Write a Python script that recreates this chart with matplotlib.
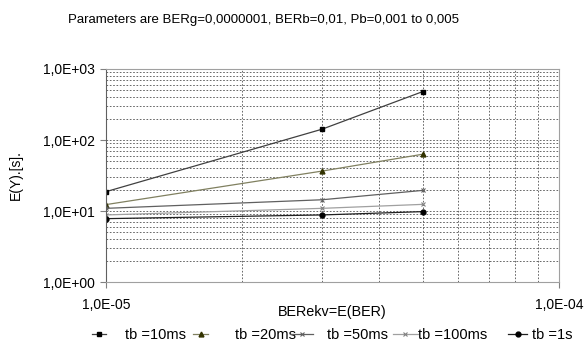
import matplotlib.pyplot as plt
from matplotlib.ticker import NullFormatter, LogLocator

plt.rcParams['font.family'] = ['Liberation Sans', 'DejaVu Sans']

ber = [1e-5, 3e-5, 5e-5]
tb_10ms = [18.7, 142, 480]
tb_20ms = [12.3, 36.5, 63]
tb_50ms = [10.9, 14.4, 19.5]
tb_100ms = [8.8, 10.9, 12.4]
tb_1s = [7.8, 8.8, 9.8]

labels = ['tb =10ms', 'tb =20ms', 'tb =50ms', 'tb =100ms', 'tb =1s']
xticks = [1e-5, 1e-4]
xtick_labels = ['1,0E-05', '1,0E-04']
ytick_labels = ['1,0E+00', '1,0E+01', '1,0E+02', '1,0E+03']

W, H = 585, 345
fig = plt.figure(figsize=(W / 100, H / 100), dpi=100)
ax = fig.add_axes([0.181, 0.1826, 0.7746, 0.6174])

series = [tb_10ms, tb_20ms, tb_50ms, tb_100ms, tb_1s]
styles = [
    dict(color='#404040', marker='s', mfc='black', mec='black', ms=3.5),
    dict(color='#808060', marker='^', mfc='#333300', mec='#333300', ms=3.5),
    dict(color='#606060', marker='x', mec='#606060', ms=3.5, mew=0.8),
    dict(color='#a0a0a0', marker='x', mec='#808080', ms=3.5, mew=0.8),
    dict(color='#202020', marker='o', mfc='black', mec='black', ms=3.5),
]
lines = []
for vals, lab, st in zip(series, labels, styles):
    ln, = ax.plot(ber, vals, lw=0.9, label=lab, **st)
    lines.append(ln)

ax.set_xscale('log')
ax.set_yscale('log')
ax.set_xlim(1e-5, 1e-4)
ax.set_ylim(1, 1000)

ax.set_xticks(xticks)
ax.set_xticklabels(['', ''])
ax.set_yticks([1, 10, 100, 1000])
ax.set_yticklabels(ytick_labels)
ax.xaxis.set_minor_locator(LogLocator(base=10, subs=range(2, 10)))
ax.yaxis.set_minor_locator(LogLocator(base=10, subs=range(2, 10)))
ax.xaxis.set_minor_formatter(NullFormatter())
ax.yaxis.set_minor_formatter(NullFormatter())
ax.tick_params(which='minor', length=0)
ax.tick_params(which='major', length=4, color='#808080', labelsize=10, pad=4)

# x tick labels placed by hand (they sit well below the axis in the original)
xt = ax.get_xaxis_transform()
for xv, txt in zip(xticks, xtick_labels):
    ax.text(xv, -0.108, txt, transform=xt, ha='center', va='center', fontsize=10)

ax.grid(True, which='both', color='#505050', lw=0.6, ls=(0, (2, 2)))
ax.set_axisbelow(True)
for sp in ax.spines.values():
    sp.set_color('#a0a0a0')
ax.spines['left'].set_color('#606060')

ax.set_xlabel('BERekv=E(BER)', fontsize=10.4)
ax.xaxis.set_label_coords(0.5, -0.141)
ax.xaxis.label.set_va('center')
ax.set_ylabel('E(Y).[s].', fontsize=10, labelpad=14)

fig.suptitle('Parameters are BERg=0,0000001, BERb=0,01, Pb=0,001 to 0,005',
             fontsize=9.5, x=0.45, y=0.96)

# Excel-style legend with uneven spacing: one small legend per entry
fs = 10.5
em = fs * 100 / 72
handle_x0 = [92, 193, 290, 393, 508]
handle_w = [14, 15, 23, 25, 19]
text_x0 = [125, 235, 327, 418, 532]
for ln, x0, hw, tx in zip(lines, handle_x0, handle_w, text_x0):
    fig.legend(handles=[ln], loc='center left', bbox_to_anchor=(x0 / W, 1 - 335 / H),
               frameon=False, fontsize=fs, borderpad=0, borderaxespad=0,
               handlelength=hw / em, handletextpad=(tx - x0 - hw) / em)

fig.savefig('out.png', dpi=100)
